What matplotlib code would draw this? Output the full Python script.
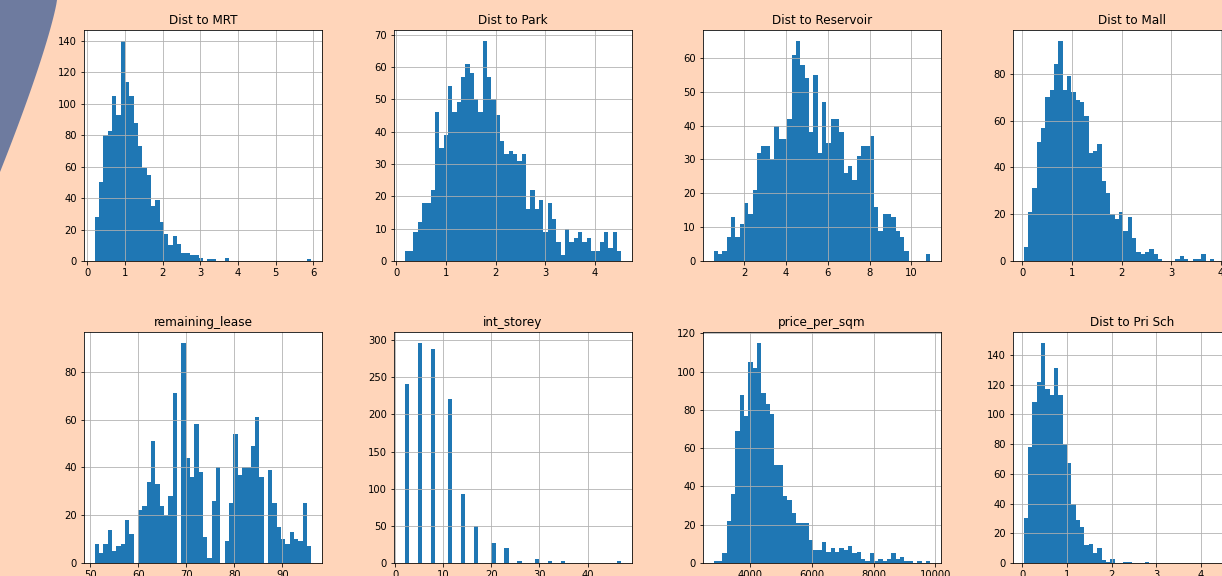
import numpy as np
import matplotlib
matplotlib.use('Agg')
import matplotlib.pyplot as plt
from matplotlib.patches import Polygon

# ---------------- data (bin counts, 50 bins per histogram) ----------------
titles = ["Dist to MRT", "Dist to Park", "Dist to Reservoir", "Dist to Mall",
          "remaining_lease", "int_storey", "price_per_sqm", "Dist to Pri Sch"]

mrt_range = (0.20, 5.94)
mrt_counts = [28, 50, 80, 83, 105, 93, 140, 114, 105, 88,
              73, 59, 55, 35, 39, 25, 17, 10, 16, 11,
              5, 5, 4, 4, 2, 0, 1, 1, 0, 0,
              2, 0, 0, 0, 0, 0, 0, 0, 0, 0,
              0, 0, 0, 0, 0, 0, 0, 0, 0, 1]

park_range = (0.177, 4.525)
park_counts = [3, 3, 9, 12, 18, 18, 22, 46, 35, 39,
               54, 46, 49, 57, 61, 58, 50, 46, 68, 57,
               50, 45, 37, 33, 34, 33, 31, 33, 16, 22,
               16, 19, 9, 18, 13, 6, 2, 10, 6, 7,
               9, 6, 7, 3, 3, 6, 9, 4, 9, 3]

res_range = (0.557, 10.90)
res_counts = [3, 2, 3, 7, 13, 7, 11, 17, 14, 21,
              32, 34, 34, 30, 40, 36, 36, 42, 61, 65,
              58, 54, 38, 55, 32, 47, 35, 42, 42, 38,
              26, 28, 24, 31, 34, 34, 37, 16, 9, 14,
              14, 13, 9, 7, 3, 0, 0, 0, 0, 2]

mall_range = (0.03, 4.386)
mall_counts = [6, 21, 31, 51, 57, 70, 73, 84, 94, 73,
               79, 72, 69, 68, 62, 46, 47, 50, 34, 29,
               20, 18, 21, 13, 19, 10, 4, 3, 4, 5,
               3, 1, 0, 0, 0, 1, 2, 1, 0, 1,
               1, 3, 0, 1, 0, 0, 1, 0, 0, 1]

lease_range = (51, 96)
lease_counts = [8, 4, 8, 14, 5, 7, 8, 18, 12, 0,
                22, 24, 34, 51, 33, 24, 20, 28, 71, 0,
                92, 44, 36, 58, 38, 11, 2, 26, 40, 0,
                9, 25, 54, 37, 40, 40, 49, 61, 36, 0,
                39, 25, 15, 10, 8, 13, 10, 9, 25, 7]

storey_range = (2, 47)
storey_values = [2, 5, 8, 11, 14, 17, 20, 23, 26, 29, 32, 35, 47]
storey_counts = [241, 296, 288, 220, 93, 50, 27, 20, 3, 6, 3, 3, 3]

price_range = (2815, 9830)
price_counts = [1, 1, 5, 22, 36, 69, 88, 77, 105, 102,
                115, 89, 83, 78, 51, 51, 35, 33, 26, 21,
                21, 21, 12, 7, 7, 11, 6, 8, 6, 8,
                7, 9, 5, 6, 2, 1, 5, 1, 2, 1,
                2, 5, 2, 3, 1, 1, 0, 1, 0, 1]

prisch_range = (0.033, 4.877)
prisch_counts = [30, 78, 108, 122, 148, 117, 113, 131, 113, 80,
                 67, 40, 29, 24, 12, 13, 7, 10, 2, 1,
                 3, 0, 0, 1, 1, 0, 0, 0, 1, 0,
                 0, 0, 0, 0, 0, 0, 0, 0, 0, 0,
                 0, 0, 0, 0, 0, 0, 0, 0, 0, 1]

# ---------------- figure ----------------
W, H = 1222, 576
DPI = 72
fig = plt.figure(figsize=(W / DPI, H / DPI), dpi=DPI, facecolor='#ffd5ba')

# decorative slate-blue curved shape in the top-left corner
ys = np.linspace(0, 172, 40)
xs = 57 * (1 - (ys / 172) ** 1.2)
shape_px = [(0, 0)] + list(zip(xs, ys)) + [(0, 172)]
fig.patches.append(Polygon([(x / W, 1 - y / H) for x, y in shape_px], closed=True,
                           transform=fig.transFigure, facecolor='#6e7b9f',
                           edgecolor='none', zorder=0))

lefts = [84, 394, 703, 1013]
tops = [30, 332]
aw, ah = 238, 231


def make_ax(row, col):
    ax = fig.add_axes([lefts[col] / W, 1 - (tops[row] + ah) / H, aw / W, ah / H])
    ax.set_facecolor('white')
    return ax


def binned(ax, rng, counts, title):
    edges = np.linspace(rng[0], rng[1], len(counts) + 1)
    centers = (edges[:-1] + edges[1:]) / 2
    ax.hist(centers, bins=edges, weights=counts, color='C0')
    ax.grid(True)
    ax.set_title(title)


panels = [(mrt_range, mrt_counts), (park_range, park_counts),
          (res_range, res_counts), (mall_range, mall_counts),
          (lease_range, lease_counts), None,
          (price_range, price_counts), (prisch_range, prisch_counts)]

for i, title in enumerate(titles):
    ax = make_ax(i // 4, i % 4)
    if panels[i] is None:
        ax.hist(storey_values, bins=50, range=storey_range,
                weights=storey_counts, color='C0')
        ax.grid(True)
        ax.set_title(title)
    else:
        binned(ax, panels[i][0], panels[i][1], title)

fig.savefig('out.png', dpi=DPI, facecolor=fig.get_facecolor())
